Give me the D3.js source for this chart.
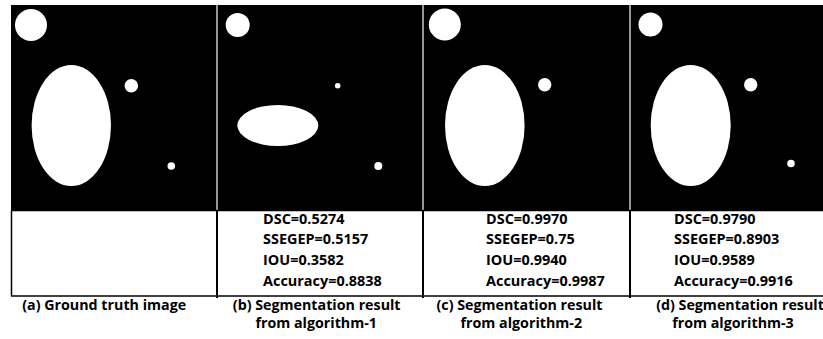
<!DOCTYPE html>
<html>
<head>
<meta charset="utf-8">
<script src="https://cdn.jsdelivr.net/npm/d3@7/dist/d3.min.js"></script>
<style>
  html, body { margin: 0; padding: 0; background: #fff; }
  svg { display: block; }
  text { font-family: "Open Sans", Lato, sans-serif; font-weight: bold; fill: #000; }
</style>
</head>
<body>
<svg id="fig" width="823" height="339"></svg>
<script>
// Panel identifiers and captions
const panels = ["a", "b", "c", "d"];
const captionLine1 = ["(a) Ground truth image", "(b) Segmentation result", "(c) Segmentation result", "(d) Segmentation result"];
const captionLine2 = ["", "from algorithm-1", "from algorithm-2", "from algorithm-3"];

// Evaluation metrics per panel (ground truth has none)
const metricNames = ["DSC", "SSEGEP", "IOU", "Accuracy"];
const dsc      = [null, "0.5274", "0.9970", "0.9790"];
const ssegep   = [null, "0.5157", "0.75",   "0.8903"];
const iou      = [null, "0.3582", "0.9940", "0.9589"];
const accuracy = [null, "0.8838", "0.9987", "0.9916"];

// Binary masks: objects in image pixel coordinates (cx, cy, rx, ry)
const maskA = [[20, 20, 16, 16], [60.3, 120.5, 39.7, 60.5], [120.3, 80.7, 6.8, 6.8], [160.3, 161, 3.8, 3.8]];
const maskB = [[20.7, 20, 12, 12], [60.8, 120.5, 40.5, 20.5], [120.7, 80.7, 2.8, 2.8], [161.3, 161, 4, 4]];
const maskC = [[21.8, 19.5, 16, 16], [61.8, 120.5, 39.8, 60.5], [121.7, 79.7, 6.7, 6.7]];
const maskD = [[20.5, 19.5, 12, 12], [60.7, 120.5, 40, 60.5], [120.7, 79.7, 6.7, 6.7], [161, 158.5, 3.8, 3.8]];
const masks = [maskA, maskB, maskC, maskD];

const svg = d3.select("#fig");

// Layout of the four columns
const colEdges = [11, 217, 423, 630, 836];
const imgTop = 5, imgBottom = 210, tableBottom = 296;

const col = d3.scaleOrdinal().domain(panels).range(colEdges.slice(0, 4));

// Black image strip
svg.append("rect")
  .attr("x", colEdges[0]).attr("y", imgTop)
  .attr("width", 823 - colEdges[0]).attr("height", imgBottom - imgTop)
  .attr("fill", "#000");

// White objects of each mask, through per-panel pixel scales
panels.forEach((p, i) => {
  const x0 = col(p);
  const sx = d3.scaleLinear().domain([0, 206]).range([x0, x0 + 206]);
  const sy = d3.scaleLinear().domain([0, 205]).range([imgTop, imgTop + 205]);
  svg.append("g").selectAll("ellipse")
    .data(masks[i]).join("ellipse")
    .attr("cx", d => sx(d[0])).attr("cy", d => sy(d[1]))
    .attr("rx", d => sx(d[2]) - sx(0)).attr("ry", d => sy(d[3]) - sy(0))
    .attr("fill", "#fff");
});

// Gray separators between images
svg.append("g").selectAll("line")
  .data(colEdges.slice(1, 4)).join("line")
  .attr("x1", d => d).attr("x2", d => d)
  .attr("y1", imgTop).attr("y2", imgBottom)
  .attr("stroke", "#c8c8c8").attr("stroke-width", 1.5);

// Metric table under the images
const tbl = svg.append("g");
tbl.append("line").attr("x1", colEdges[0]).attr("x2", 823)
  .attr("y1", imgBottom + 0.5).attr("y2", imgBottom + 0.5)
  .attr("stroke", "#000").attr("stroke-width", 1.5);
tbl.append("line").attr("x1", colEdges[0]).attr("x2", 823)
  .attr("y1", tableBottom).attr("y2", tableBottom)
  .attr("stroke", "#000").attr("stroke-width", 1.5);
tbl.append("line").attr("x1", colEdges[0] + 0.5).attr("x2", colEdges[0] + 0.5)
  .attr("y1", imgBottom).attr("y2", tableBottom)
  .attr("stroke", "#000").attr("stroke-width", 1.5);
tbl.selectAll("line.v")
  .data(colEdges.slice(1, 4)).join("line").attr("class", "v")
  .attr("x1", d => d).attr("x2", d => d)
  .attr("y1", imgBottom).attr("y2", tableBottom + 2)
  .attr("stroke", "#000").attr("stroke-width", 2);

// Fit a font size so that a sample string reaches a target width
function fitSize(sample, width, base) {
  const t = svg.append("text").attr("font-size", base).text(sample);
  const w = t.node().getComputedTextLength();
  t.remove();
  return base * width / w;
}
const metricSize = fitSize("Accuracy=0.8838", 119, 14);
const captionSize = fitSize("(a) Ground truth image", 164, 15);

// Metric text positions
const textX = [0, 263, 486, 674];
const lineY = d3.scalePoint().domain(metricNames).range([223.5, 286]);
const metricVals = [dsc, ssegep, iou, accuracy];

panels.forEach((p, i) => {
  if (dsc[i] === null) return;
  metricNames.forEach((m, k) => {
    tbl.append("text")
      .attr("x", textX[i]).attr("y", lineY(m))
      .attr("font-size", metricSize)
      .text(m + "=" + metricVals[k][i]);
  });
});

// Captions
const cap1Center = [104.2, 316.7, 519.5, 740];
const cap2Center = [0, 316.2, 521.3, 733];
panels.forEach((p, i) => {
  svg.append("text").attr("x", cap1Center[i]).attr("y", 309.8)
    .attr("text-anchor", "middle").attr("font-size", captionSize)
    .text(captionLine1[i]);
  if (captionLine2[i]) {
    svg.append("text").attr("x", cap2Center[i]).attr("y", 328.3)
      .attr("text-anchor", "middle").attr("font-size", captionSize)
      .text(captionLine2[i]);
  }
});
</script>
</body>
</html>
